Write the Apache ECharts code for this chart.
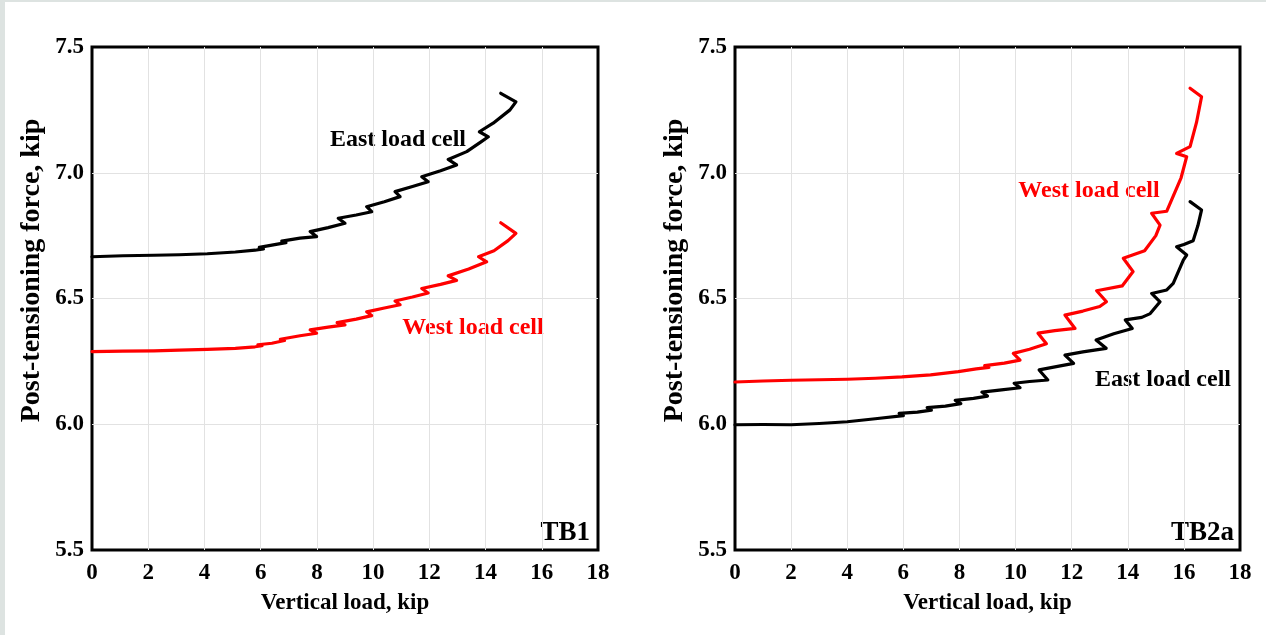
<!DOCTYPE html>
<html>
<head>
<meta charset="utf-8">
<script src="https://cdn.jsdelivr.net/npm/echarts@6/dist/echarts.min.js"></script>
<style>
  html, body { margin: 0; padding: 0; width: 1266px; height: 635px; overflow: hidden; background: #dde3e1; }
  #chart { position: absolute; left: 5px; top: 2px; width: 1261px; height: 633px; background: #fff; }
</style>
</head>
<body>
<div id="chart"></div>
<script>
// x = vertical load (kip), y = post-tensioning force (kip)
const xMin = 0, xMax = 18, xStep = 2
const yMin = 5.5, yMax = 7.5, yStep = 0.5

const tb1East = [
  [0, 6.666], [1.1, 6.670], [2.2, 6.672], [3.1, 6.674], [4.1, 6.678], [5.1, 6.685],
  [5.8, 6.692], [6.1, 6.697], [5.95, 6.703], [6.4, 6.712], [6.9, 6.722], [6.75, 6.728],
  [7.4, 6.740], [7.99, 6.746], [7.76, 6.766], [8.4, 6.782], [9.0, 6.799], [8.76, 6.819],
  [9.4, 6.832], [9.95, 6.845], [9.77, 6.865], [10.4, 6.885], [10.96, 6.905], [10.78, 6.925],
  [11.4, 6.945], [11.96, 6.964], [11.73, 6.984], [12.4, 7.008], [12.97, 7.031], [12.67, 7.053],
  [13.33, 7.084], [13.8, 7.120], [14.10, 7.143], [13.78, 7.163], [14.27, 7.197], [14.87, 7.250],
  [15.08, 7.282], [14.54, 7.316],
]
const tb1West = [
  [0, 6.289], [1.1, 6.291], [2.2, 6.292], [3.1, 6.295], [4.1, 6.298], [5.1, 6.302],
  [5.8, 6.308], [6.05, 6.312], [5.9, 6.316], [6.4, 6.322], [6.85, 6.333], [6.7, 6.338],
  [7.4, 6.352], [7.99, 6.362], [7.76, 6.375], [8.4, 6.386], [9.0, 6.395], [8.72, 6.404],
  [9.4, 6.418], [9.95, 6.432], [9.77, 6.447], [10.4, 6.462], [10.96, 6.475], [10.78, 6.490],
  [11.4, 6.506], [11.96, 6.522], [11.73, 6.540], [12.4, 6.556], [12.97, 6.572], [12.67, 6.590],
  [13.4, 6.617], [14.04, 6.646], [13.75, 6.666], [14.3, 6.690], [14.8, 6.730], [15.08, 6.759],
  [14.54, 6.801],
]
const tb2aWest = [
  [0, 6.168], [1, 6.172], [2, 6.175], [3, 6.177], [4, 6.179], [5, 6.183], [5.95, 6.188],
  [6.97, 6.196], [7.96, 6.209], [8.6, 6.220], [9.05, 6.226], [8.9, 6.233], [9.6, 6.243],
  [10.16, 6.255], [9.92, 6.282], [10.5, 6.298], [11.1, 6.320], [10.8, 6.362], [11.4, 6.372],
  [12.12, 6.381], [11.76, 6.434], [12.4, 6.450], [13.0, 6.468], [13.24, 6.487], [12.89, 6.531],
  [13.8, 6.550], [14.19, 6.607], [13.84, 6.660], [14.6, 6.690], [15.0, 6.750], [15.15, 6.792],
  [14.85, 6.839], [15.39, 6.847], [15.9, 6.980], [16.10, 7.064], [15.74, 7.077], [16.22, 7.104],
  [16.45, 7.200], [16.63, 7.302], [16.22, 7.336],
]
const tb2aEast = [
  [0, 5.998], [1, 5.999], [2, 5.998], [3, 6.003], [4, 6.010], [5, 6.022], [6.0, 6.034],
  [5.85, 6.043], [6.5, 6.048], [7.0, 6.056], [6.85, 6.066], [7.5, 6.072], [8.05, 6.082],
  [7.85, 6.095], [8.5, 6.103], [9.0, 6.112], [8.8, 6.128], [9.5, 6.137], [10.16, 6.145],
  [9.95, 6.163], [10.5, 6.170], [11.15, 6.176], [10.84, 6.216], [11.5, 6.230], [12.07, 6.242],
  [11.76, 6.275], [12.4, 6.288], [13.23, 6.302], [12.87, 6.335], [13.5, 6.360], [14.16, 6.381],
  [13.91, 6.415], [14.5, 6.425], [14.8, 6.440], [15.15, 6.487], [14.85, 6.520], [15.39, 6.534],
  [15.62, 6.560], [15.98, 6.653], [16.10, 6.673], [15.74, 6.706], [16.0, 6.715], [16.33, 6.730],
  [16.5, 6.790], [16.63, 6.852], [16.22, 6.885],
]

const xTitle = 'Vertical load, kip'
const yTitle = 'Post-tensioning force, kip'
const panelNames = ['TB1', 'TB2a']

const font = "'Liberation Serif', 'Times New Roman', serif"

const makeX = (gridIndex) => ({
  type: 'value', gridIndex, min: xMin, max: xMax, interval: xStep,
  name: xTitle, nameLocation: 'middle', nameGap: 42,
  nameTextStyle: { color: '#000', fontFamily: font, fontWeight: 'bold', fontSize: 23 },
  axisLine: { show: false },
  axisTick: { show: false },
  axisLabel: { color: '#000', fontFamily: font, fontWeight: 'bold', fontSize: 23, margin: 12 },
  splitLine: { show: true, showMinLine: false, showMaxLine: false, lineStyle: { color: '#e2e2e2', width: 1 } },
})
const makeY = (gridIndex) => ({
  type: 'value', gridIndex, min: yMin, max: yMax, interval: yStep,
  name: yTitle, nameLocation: 'middle', nameGap: 46,
  nameTextStyle: { color: '#000', fontFamily: font, fontWeight: 'bold', fontSize: 28, padding: [0, 0, 0, 56] },
  axisLine: { show: false },
  axisTick: { show: false },
  axisLabel: { color: '#000', fontFamily: font, fontWeight: 'bold', fontSize: 23, margin: 8, formatter: (v) => v.toFixed(1) },
  splitLine: { show: true, showMinLine: false, showMaxLine: false, lineStyle: { color: '#e2e2e2', width: 1 } },
})
const line = (data, color, idx) => ({
  type: 'line', data, xAxisIndex: idx, yAxisIndex: idx,
  showSymbol: false, symbol: 'none', smooth: false,
  lineStyle: { color, width: 3.2, join: 'round', cap: 'round' },
  itemStyle: { color },
})
const label = (text, x, y, color, size, align) => ({
  type: 'text', x, y,
  style: { text, fill: color, font: `bold ${size}px ${font}`, textAlign: align || 'center', textVerticalAlign: 'middle' },
})

const chart = echarts.init(document.getElementById('chart'))
chart.setOption({
  animation: false,
  grid: [
    { left: 87, top: 45, width: 506, height: 503, show: true, borderColor: '#000', borderWidth: 3, backgroundColor: 'transparent' },
    { left: 730, top: 45, width: 505, height: 503, show: true, borderColor: '#000', borderWidth: 3, backgroundColor: 'transparent' },
  ],
  xAxis: [makeX(0), makeX(1)],
  yAxis: [makeY(0), makeY(1)],
  series: [
    line(tb1East, '#000', 0),
    line(tb1West, '#ff0000', 0),
    line(tb2aWest, '#ff0000', 1),
    line(tb2aEast, '#000', 1),
  ],
  graphic: [
    label('East load cell', 393, 138, '#000', 24),
    label('West load cell', 468, 326, '#ff0000', 24),
    label('West load cell', 1084, 189, '#ff0000', 24),
    label('East load cell', 1158, 378, '#000', 24),
    label(panelNames[0], 585, 531, '#000', 27, 'right'),
    label(panelNames[1], 1229, 531, '#000', 27, 'right'),
  ],
})
</script>
</body>
</html>
